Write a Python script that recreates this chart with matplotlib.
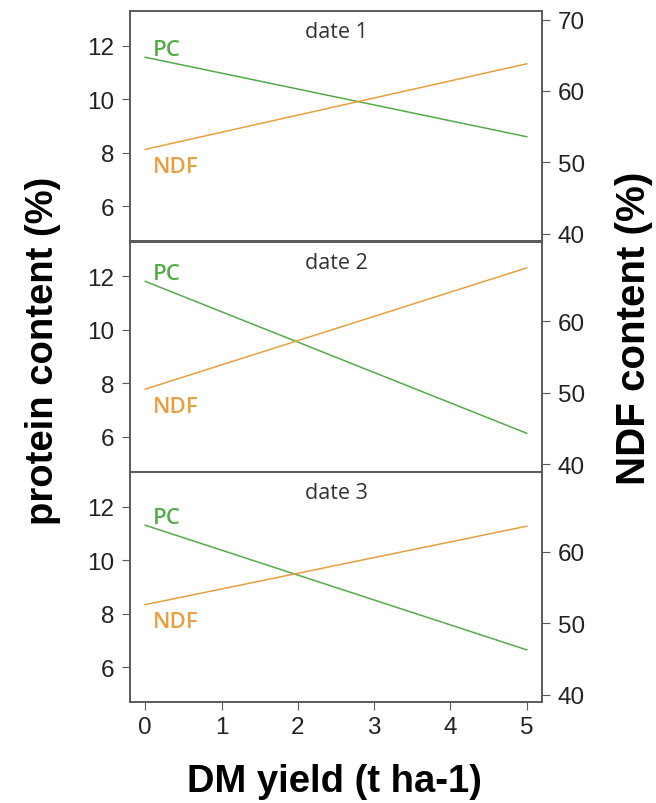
import matplotlib
matplotlib.use("Agg")
import matplotlib.pyplot as plt

# data (fitted lines, DM yield 0 -> 5)
dm_yield = [0, 5]
dates = ["date 1", "date 2", "date 3"]
pc_start = [11.57, 11.81, 11.31]
pc_end = [8.60, 6.13, 6.65]
ndf_start = [51.8, 50.5, 52.6]
ndf_end = [63.8, 67.5, 63.6]

pc_ticks = [6, 8, 10, 12]
ndf_ticks = [[40, 50, 60, 70], [40, 50, 60], [40, 50, 60]]
x_ticks = [0, 1, 2, 3, 4, 5]

green = "#55ab4a"
orange = "#e8a03e"
frame = "#5a5a5a"

plt.rcParams["font.family"] = ["Liberation Sans", "DejaVu Sans"]

fig = plt.figure(figsize=(6.56, 8.04), dpi=100)

W, H = 656.0, 804.0
left, right = 130, 542
tops = [12, 242.5, 473]
ph = 230

for i in range(3):
    bottom = tops[i] + ph
    ax = fig.add_axes([left / W, 1 - bottom / H, (right - left) / W, ph / H])
    ax2 = ax.twinx()

    ax.plot(dm_yield, [pc_start[i], pc_end[i]], color=green, lw=1.1)
    ax2.plot(dm_yield, [ndf_start[i], ndf_end[i]], color=orange, lw=1.1)

    ax.set_xlim(-0.2, 5.2)
    ax.set_ylim(4.7, 13.3)
    ax2.set_ylim(38.95, 71.2)
    ax.set_yticks(pc_ticks)
    ax2.set_yticks(ndf_ticks[i])

    for a in (ax, ax2):
        for s in a.spines.values():
            s.set_color(frame)
            s.set_linewidth(1.2)
        a.tick_params(axis="y", length=5.8, width=0.8, color=frame,
                      labelsize=17.5, labelcolor="#222222", pad=5.5)

    if i < 2:
        ax.set_xticks([])
    else:
        ax.set_xticks(x_ticks)
        ax.tick_params(axis="x", length=5.8, width=0.8, color=frame,
                       labelsize=17.5, labelcolor="#222222", pad=4)

    # panel title and series labels
    ax.text(0.5, 0.91, dates[i], transform=ax.transAxes, ha="center", va="center",
            fontsize=15.5, color="#333333", family=["Open Sans", "DejaVu Sans"])
    ax.text(0.1, pc_start[i] + 0.1, "PC", ha="left", va="baseline",
            fontsize=16, color=green, fontweight="semibold",
            family=["Open Sans", "DejaVu Sans"])
    ax2.text(0.1, ndf_start[i] - 3.2, "NDF", ha="left", va="baseline",
             fontsize=16, color=orange, fontweight="semibold",
             family=["Open Sans", "DejaVu Sans"])

fig.text(334 / W, 1 - 782 / H, "DM yield (t ha-1)", ha="center", va="center",
         fontsize=27.5, fontweight="bold")
fig.text(43 / W, 1 - 351 / H, "protein content (%)", ha="center", va="center",
         rotation=90, fontsize=27.5, fontweight="bold")
fig.text(634 / W, 1 - 328 / H, "NDF content (%)", ha="center", va="center",
         rotation=90, fontsize=29, fontweight="bold")

fig.savefig("out.png", dpi=100)
